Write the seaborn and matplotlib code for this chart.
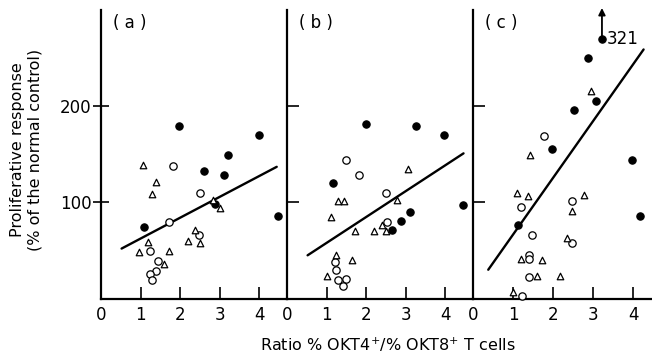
import matplotlib
matplotlib.use("Agg")
import matplotlib.pyplot as plt
import seaborn as sns

# panel (a)
a_filled_x = [1.96, 4.00, 3.21, 2.59, 3.10, 2.89, 4.48, 1.09]
a_filled_y = [179, 170, 149, 133, 129, 98, 86, 74]
a_open_x = [1.83, 2.51, 1.73, 2.47, 1.24, 1.43, 1.40, 1.23, 1.29]
a_open_y = [138, 110, 80, 66, 49, 39, 29, 26, 19]
a_tri_x = [1.06, 1.39, 1.29, 2.82, 3.00, 1.18, 0.97, 1.73, 1.60, 2.38, 2.20, 2.49]
a_tri_y = [139, 121, 109, 102, 94, 59, 48, 49, 36, 71, 60, 58]
a_line_x = [0.52, 4.44]
a_line_y = [52, 137]

# panel (b)
b_filled_x = [1.99, 3.25, 3.97, 1.15, 4.45, 3.12, 2.89, 2.66]
b_filled_y = [181, 179, 170, 120, 97, 90, 81, 71]
b_open_x = [1.49, 1.81, 2.51, 2.52, 1.22, 1.23, 1.30, 1.49, 1.41]
b_open_y = [144, 129, 110, 80, 38, 30, 19, 20, 13]
b_tri_x = [3.06, 1.30, 1.45, 2.78, 1.11, 1.72, 2.20, 2.40, 2.50, 1.24, 1.64, 1.00]
b_tri_y = [135, 101, 101, 103, 85, 70, 70, 77, 70, 45, 40, 23]
b_line_x = [0.52, 4.46]
b_line_y = [45, 151]

# panel (c)
c_filled_x = [3.22, 2.86, 3.08, 2.53, 1.97, 3.96, 4.18, 1.12]
c_filled_y = [270, 250, 205, 196, 156, 144, 86, 76]
c_open_x = [1.78, 1.19, 2.47, 1.47, 2.47, 1.41, 1.41, 1.41, 1.22]
c_open_y = [169, 95, 101, 66, 58, 45, 41, 22, 3]
c_tri_x = [2.94, 1.43, 1.09, 1.37, 2.76, 2.47, 2.34, 1.20, 1.72, 1.61, 2.18, 1.01]
c_tri_y = [216, 149, 110, 107, 108, 91, 63, 41, 40, 23, 23, 7]
c_line_x = [0.38, 4.26]
c_line_y = [30, 259]

panel_names = ["( a )", "( b )", "( c )"]
x_ticks = [0, 1, 2, 3, 4]
y_ticks = [100, 200]

sns.set_style("ticks", {"axes.edgecolor": "black", "text.color": "black",
                        "xtick.color": "black", "ytick.color": "black",
                        "axes.labelcolor": "black"})
plt.rcParams["font.family"] = ["DejaVu Sans"]

panels = [
    (a_filled_x, a_filled_y, a_open_x, a_open_y, a_tri_x, a_tri_y, a_line_x, a_line_y),
    (b_filled_x, b_filled_y, b_open_x, b_open_y, b_tri_x, b_tri_y, b_line_x, b_line_y),
    (c_filled_x, c_filled_y, c_open_x, c_open_y, c_tri_x, c_tri_y, c_line_x, c_line_y),
]

fig = plt.figure(figsize=(6.52, 3.57), dpi=100)
bottom, height = 0.1636, 0.8083
rects = [(0.1549, 0.2853), (0.4402, 0.2853), (0.7255, 0.2745)]
xmax = [4.7, 4.7, 4.47]

for i, (fx, fy, ox, oy, tx, ty, lx, ly) in enumerate(panels):
    ax = fig.add_axes([rects[i][0], bottom, rects[i][1], height])
    sns.lineplot(x=lx, y=ly, ax=ax, color="black", lw=1.7)
    sns.scatterplot(x=fx, y=fy, ax=ax, marker="o", color="black",
                    edgecolor="black", s=28, linewidth=0.8, clip_on=False, zorder=3)
    sns.scatterplot(x=ox, y=oy, ax=ax, marker="o", color="white",
                    edgecolor="black", s=28, linewidth=0.9, clip_on=False, zorder=3)
    sns.scatterplot(x=tx, y=ty, ax=ax, marker="^", color="white",
                    edgecolor="black", s=22, linewidth=0.9, clip_on=False, zorder=3)

    ax.set_xlim(0, xmax[i])
    ax.set_ylim(0, 300)
    ax.set_xticks(x_ticks)
    ax.set_yticks(y_ticks)
    for side in ["top", "right"]:
        ax.spines[side].set_visible(False)
    for side in ["left", "bottom"]:
        ax.spines[side].set_linewidth(1.6)
    ax.tick_params(axis="x", direction="in", length=8.5, width=1.2,
                   labelsize=12, pad=5)
    if i == 0:
        ax.tick_params(axis="y", direction="inout", length=12, width=1.2,
                       labelsize=12, pad=1)
    else:
        ax.tick_params(axis="y", direction="in", length=8.5, width=1.2,
                       labelleft=False)
    ax.set_xlabel("")
    ax.set_ylabel("")
    ax.text(0.3, 287, panel_names[i], fontsize=12, va="center", ha="left")
    ax.set_facecolor("none")

    if i == 2:
        ax.annotate("", xy=(3.22, 305), xytext=(3.22, 270),
                    arrowprops=dict(arrowstyle="-|>", color="black", lw=1.3,
                                    mutation_scale=10),
                    annotation_clip=False)
        ax.text(3.33, 270, "321", fontsize=12, va="center", ha="left")

fig.text(0.04, 0.58, "Proliferative response\n(% of the normal control)",
         rotation=90, ha="center", va="center", fontsize=11.5,
         multialignment="center")
fig.text(0.595, 0.034, r"Ratio % OKT4$^{+}$/% OKT8$^{+}$ T cells",
         ha="center", va="center", fontsize=11.5)

fig.savefig("out.png", dpi=100)
